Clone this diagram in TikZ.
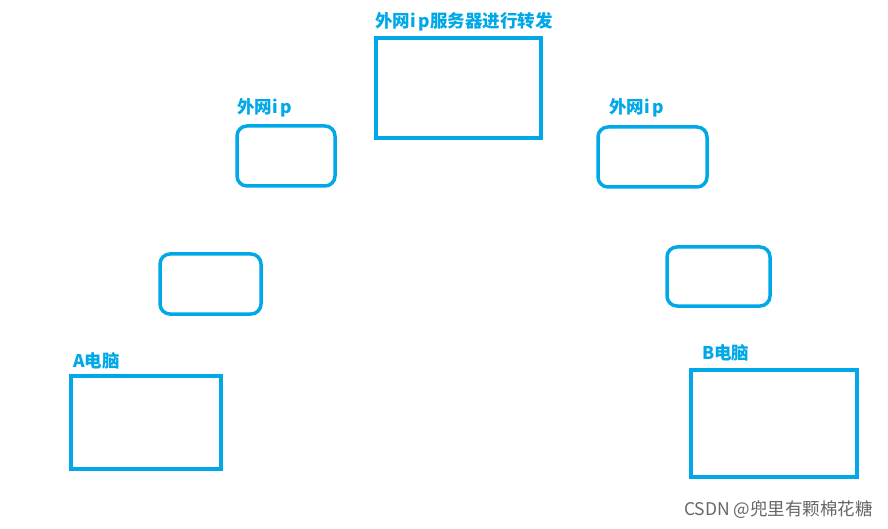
\documentclass[tikz,border=0pt]{standalone}
\usepackage{fontspec}
\setmainfont{Noto Sans CJK SC}
\definecolor{bl}{HTML}{00A8E8}
\begin{document}
\begin{tikzpicture}[x=1pt,y=-1pt,
  sq/.style={draw=bl,line width=3.5pt},
  rd/.style={draw=bl,line width=3.5pt,rounded corners=10pt},
  lb/.style={anchor=west,text=bl,font=\fontsize{17.5}{19}\selectfont\bfseries,inner sep=0pt}]
\useasboundingbox (0,0) rectangle (888,529);
\draw[sq] (376,38) rectangle (541,138) node[pos=0](top){};
\draw[rd] (237,126) rectangle (335,186) node[pos=0](lu){};
\draw[rd] (598,127) rectangle (707,187) node[pos=0](ru){};
\draw[rd] (160,254) rectangle (261,314) node[pos=0](lm){};
\draw[rd] (667,247) rectangle (770,306) node[pos=0](rm){};
\draw[sq] (71,376) rectangle (221,469) node[pos=0](a){};
\draw[sq] (691,370) rectangle (857,477) node[pos=0](b){};
\node[lb] (t1) at (375,22) {外网i\,p服务器进行转发};
\node[lb] (t2) at (237,108) {外网i\,p};
\node[lb] (t3) at (609,108) {外网i\,p};
\node[lb] (t4) at (73,361) {A电脑};
\node[lb] (t5) at (702,353) {B电脑};
\node[anchor=east,text=gray!80!black,font=\fontsize{17.5}{19}\selectfont,inner sep=0pt] (w) at (873,510) {CSDN @兜里有颗棉花糖};
\end{tikzpicture}
\end{document}
